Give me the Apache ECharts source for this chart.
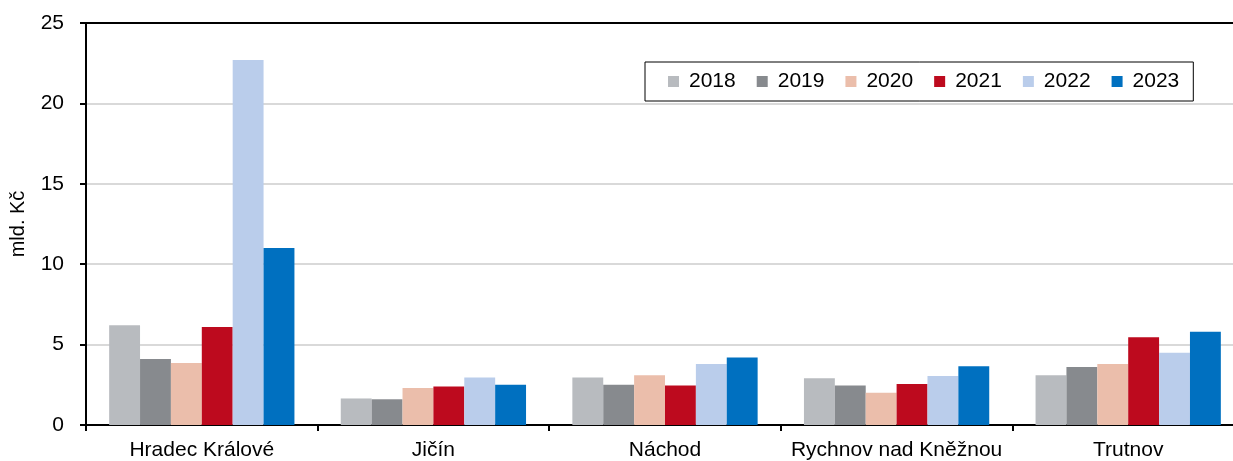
<!DOCTYPE html>
<html>
<head>
<meta charset="utf-8">
<script src="https://cdn.jsdelivr.net/npm/echarts@6/dist/echarts.min.js"></script>
<style>
  html, body { margin: 0; padding: 0; background: #fff; overflow: hidden; }
  #chart { width: 1260px; height: 461px; }
</style>
</head>
<body>
<div id="chart"></div>
<script>
// Districts of the Hradec Králové region
const categories = ['Hradec Králové', 'Jičín', 'Náchod', 'Rychnov nad Kněžnou', 'Trutnov'];
const years = ['2018', '2019', '2020', '2021', '2022', '2023'];
const colors = ['#B8BBBF', '#878A8E', '#EBBEAB', '#BD0A1E', '#BACDEB', '#0070C0'];

// Values in billions CZK (mld. Kč)
const v2018 = [6.2, 1.65, 2.95, 2.9, 3.1];
const v2019 = [4.1, 1.6, 2.5, 2.45, 3.6];
const v2020 = [3.85, 2.3, 3.1, 2.0, 3.8];
const v2021 = [6.1, 2.4, 2.45, 2.55, 5.45];
const v2022 = [22.7, 2.95, 3.8, 3.05, 4.5];
const v2023 = [11.0, 2.5, 4.2, 3.65, 5.8];
const values = [v2018, v2019, v2020, v2021, v2022, v2023];

const yTicks = { min: 0, max: 25, interval: 5 };
const font = 'Liberation Sans, Arial, sans-serif';

const chart = echarts.init(document.getElementById('chart'), null, { renderer: 'canvas' });

chart.setOption({
  animation: false,
  color: colors,
  textStyle: { fontFamily: font, color: '#000' },
  grid: { left: 84, top: 23, width: 1160, height: 406, containLabel: false },
  legend: {
    left: 645,
    top: 62,
    orient: 'horizontal',
    icon: 'rect',
    itemWidth: 11,
    itemHeight: 11,
    itemGap: 21,
    padding: [9, 14, 9, 23],
    borderColor: '#000',
    borderWidth: 1,
    data: years,
    textStyle: { fontFamily: font, fontSize: 21, color: '#000', lineHeight: 20, padding: [0, 0, 0, 5] }
  },
  xAxis: [
    {
      type: 'category',
      data: categories,
      position: 'bottom',
      axisLine: { lineStyle: { color: '#000', width: 2 } },
      axisTick: { show: true, length: 6, interval: 0, lineStyle: { color: '#000', width: 2 } },
      axisLabel: { fontFamily: font, fontSize: 21, color: '#000', margin: 15, interval: 0 }
    },
    {
      type: 'category',
      data: categories,
      position: 'top',
      axisLine: { lineStyle: { color: '#000', width: 2 } },
      axisTick: { show: false },
      axisLabel: { show: false }
    }
  ],
  yAxis: {
    type: 'value',
    min: yTicks.min,
    max: yTicks.max,
    interval: yTicks.interval,
    name: 'mld. Kč',
    nameLocation: 'middle',
    nameGap: 58,
    nameRotate: 90,
    nameTextStyle: { fontFamily: font, fontSize: 20, color: '#000' },
    axisLine: { show: true, lineStyle: { color: '#000', width: 2 } },
    axisTick: { show: true, length: 6, lineStyle: { color: '#000', width: 2 } },
    axisLabel: { fontFamily: font, fontSize: 21, color: '#000', margin: 22 },
    splitLine: { show: true, lineStyle: { color: '#CCCCCC', width: 1.5 } }
  },
  series: years.map((y, i) => ({
    name: y,
    type: 'bar',
    xAxisIndex: 0,
    data: values[i],
    barGap: '0%',
    barCategoryGap: '20%',
    itemStyle: { color: colors[i] }
  }))
});
</script>
</body>
</html>
